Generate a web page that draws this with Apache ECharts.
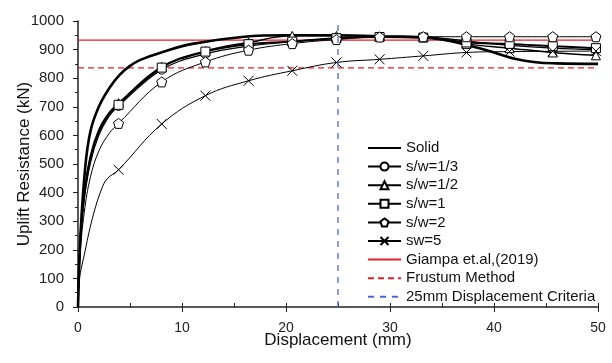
<!DOCTYPE html>
<html>
<head>
<meta charset="utf-8">
<script src="https://cdn.jsdelivr.net/npm/echarts@6/dist/echarts.min.js"></script>
<style>
  html, body { margin: 0; padding: 0; background: #fff; }
  #chart { width: 612px; height: 363px; }
</style>
</head>
<body>
<div id="chart"></div>
<script>
// marker positions shared by the s/w curves
var markerX = [3.9, 8.05, 12.25, 16.4, 20.6, 24.85, 29.0, 33.2, 37.35, 41.5, 45.65, 49.8];

// Solid (no markers)
var solidX = [0, 0.25, 0.7, 1.2, 2, 3, 4, 5, 6, 8, 11, 16, 20, 25, 30, 33, 35, 37.5, 40, 42, 44, 46, 50];
var solidY = [0, 260, 490, 615, 700, 765, 812, 843, 864, 890, 920, 945, 950, 950, 946, 943, 935, 915, 890, 868, 856, 852, 850];

// start of each curve before the first marker
var sw13StartX = [0, 0.2, 0.6, 1.2, 2, 3];
var sw13StartY = [0, 210, 375, 505, 600, 668];
var sw13Y = [703, 830, 885, 912, 928, 940, 944, 944, 930, 915, 905, 900];

var sw12StartX = [0, 0.2, 0.6, 1.2, 2, 3];
var sw12StartY = [0, 225, 400, 530, 620, 680];
var sw12Y = [713, 840, 895, 925, 948, 948, 946, 944, 920, 905, 890, 880];

var sw1StartX = [0, 0.2, 0.6, 1.2, 2, 3];
var sw1StartY = [0, 220, 390, 520, 612, 675];
var sw1Y = [707, 837, 893, 919, 928, 940, 944, 942, 925, 920, 912, 905];

var sw2StartX = [0, 0.2, 0.6, 1.2, 2, 3];
var sw2StartY = [0, 180, 330, 455, 545, 607];
var sw2Y = [642, 787, 857, 898, 921, 935, 944, 945, 945, 945, 945, 945];

var sw5StartX = [0, 0.06, 0.7, 1.5, 2.3, 2.8];
var sw5StartY = [0, 71, 199, 326, 415, 448];
var sw5Y = [480, 640, 739, 791, 826, 855, 866, 878, 890, 893, 894, 895];

// reference values
var giampa = 933;
var frustum = 836;
var criteria = 25;

var pentagon = 'path://M0,-10 L9.5,-3.1 L5.9,8.1 L-5.9,8.1 L-9.5,-3.1 Z';
var cross = 'path://M0,0 L10,10 M10,0 L0,10';

function build(sx, sy, my) {
  var d = [];
  for (var i = 0; i < sx.length; i++) d.push({ value: [sx[i], sy[i]], symbol: 'none' });
  for (var j = 0; j < markerX.length; j++) d.push({ value: [markerX[j], my[j]] });
  return d;
}

function curve(name, data, symbol, width, size) {
  return {
    name: name, type: 'line', data: data, smooth: 0.4,
    symbol: symbol, symbolSize: size || 9, showAllSymbol: true,
    lineStyle: { color: '#000', width: width },
    itemStyle: { color: '#fff', borderColor: '#000', borderWidth: 1 },
    z: 3
  };
}

var solidData = solidX.map(function (x, i) { return [x, solidY[i]]; });
var hidden = { opacity: 0 };

var chart = echarts.init(document.getElementById('chart'));
chart.setOption({
  animation: false,
  textStyle: { fontFamily: 'Liberation Sans, Arial, sans-serif' },
  grid: { left: 78, right: 14, top: 21, bottom: 56, outerBoundsMode: 'none' },
  legend: {
    orient: 'vertical', left: 362, top: 135,
    itemWidth: 33, itemHeight: 10, itemGap: 2.6,
    textStyle: { fontSize: 15, color: '#111', lineHeight: 16 },
    data: [
      { name: 'Solid', itemStyle: hidden },
      's/w=1/3', 's/w=1/2', 's/w=1', 's/w=2', 'sw=5',
      { name: 'Giampa et.al,(2019)', itemStyle: hidden },
      { name: 'Frustum Method', itemStyle: hidden },
      { name: '25mm Displacement Criteria', itemStyle: hidden }
    ]
  },
  xAxis: [{
    type: 'value', min: 0, max: 50, interval: 10,
    name: 'Displacement (mm)', nameLocation: 'middle', nameGap: 25, nameMoveOverlap: false,
    nameTextStyle: { fontSize: 17, color: '#111' },
    axisLine: { lineStyle: { color: '#222', width: 1.5 } },
    axisTick: { length: 5, lineStyle: { color: '#222' } },
    axisLabel: { fontSize: 14, color: '#222', margin: 14 },
    splitLine: { show: false }
  }, {
    type: 'value', min: 0, max: 50, interval: 5, position: 'bottom',
    axisLine: { show: false },
    axisTick: { inside: true, length: 4, lineStyle: { color: '#222' } },
    axisLabel: { show: false },
    splitLine: { show: false }
  }],
  yAxis: {
    type: 'value', min: 0, max: 1000, interval: 100,
    name: 'Uplift Resistance (kN)', nameLocation: 'middle', nameGap: 45, nameMoveOverlap: false,
    nameTextStyle: { fontSize: 17, color: '#111' },
    axisLine: { show: true, lineStyle: { color: '#222', width: 1.5 } },
    axisTick: { show: true, length: 5, lineStyle: { color: '#222' } },
    minorTick: { show: true, splitNumber: 2, length: 3, lineStyle: { color: '#222' } },
    axisLabel: { fontSize: 15, color: '#222', margin: 14, formatter: function (v) { return String(v); } },
    splitLine: { show: false }
  },
  series: [
    {
      name: 'Giampa et.al,(2019)', type: 'line', symbol: 'none',
      data: [[0, giampa], [50, giampa]],
      lineStyle: { color: '#e81e25', width: 1.3 }, itemStyle: { color: '#e81e25' }, z: 2
    },
    {
      name: 'Frustum Method', type: 'line', symbol: 'none',
      data: [[0, frustum], [50, frustum]],
      lineStyle: { color: '#e81e25', width: 1.3, type: [6, 4] }, itemStyle: { color: '#e81e25' }, z: 2
    },
    {
      name: '25mm Displacement Criteria', type: 'line', symbol: 'none',
      data: [[criteria, 0], [criteria, 1000]],
      lineStyle: { color: '#4d63da', width: 1.3, type: [6, 6] }, itemStyle: { color: '#4d63da' }, z: 4
    },
    {
      name: 'Solid', type: 'line', symbol: 'none', data: solidData, smooth: 0.4,
      lineStyle: { color: '#000', width: 2.6 }, itemStyle: { color: '#000' }, z: 3
    },
    curve('s/w=1/3', build(sw13StartX, sw13StartY, sw13Y), 'circle', 1.2),
    curve('s/w=1/2', build(sw12StartX, sw12StartY, sw12Y), 'triangle', 1.5),
    curve('s/w=1', build(sw1StartX, sw1StartY, sw1Y), 'rect', 2),
    curve('s/w=2', build(sw2StartX, sw2StartY, sw2Y), pentagon, 1, 10),
    curve('sw=5', build(sw5StartX, sw5StartY, sw5Y), cross, 1, 10)
  ]
});
</script>
</body>
</html>
